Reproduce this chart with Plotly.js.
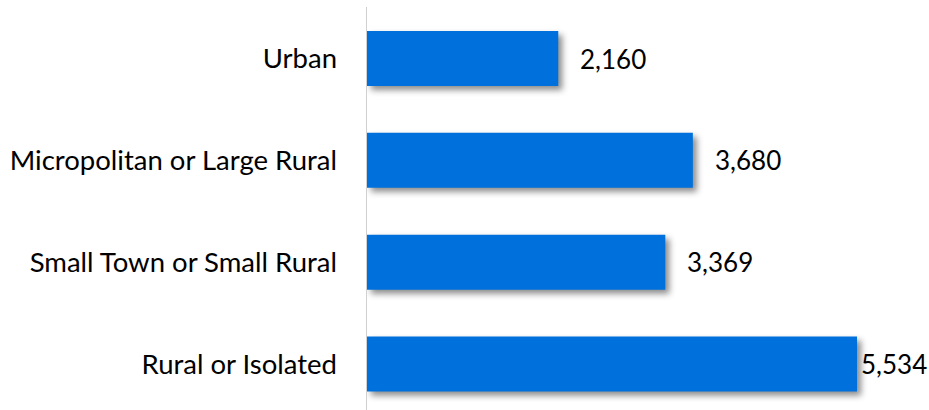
<!DOCTYPE html>
<html>
<head>
<meta charset="utf-8">
<script src="https://cdn.plot.ly/plotly-3.0.1.min.js"></script>
<style>
html,body{margin:0;padding:0;background:#fff;}
.trace.bars .point path{filter: drop-shadow(4px 4px 3px rgba(0,0,0,0.45));}
</style>
</head>
<body>
<div id="chart" style="width:929px;height:410px;"></div>
<script>
const categories = ["Urban", "Micropolitan or Large Rural", "Small Town or Small Rural", "Rural or Isolated"];
const values = [2160, 3680, 3369, 5534];
const labelShift = [20, 20, 20, 2];

const fontFam = "Lato, 'Open Sans', sans-serif";

const trace = {
  type: "bar",
  orientation: "h",
  x: values,
  y: categories,
  marker: {color: "#0070DD"},
  hoverinfo: "none"
};

const annotations = values.map((v, i) => ({
  x: v, y: categories[i], xref: "x", yref: "y",
  text: v.toLocaleString("en-US"),
  showarrow: false, xanchor: "left", yanchor: "middle",
  xshift: labelShift[i],
  font: {family: fontFam, size: 26, color: "#000"}
}));

const layout = {
  width: 929, height: 410,
  margin: {l: 367, r: 0, t: 7, b: 0},
  paper_bgcolor: "#fff", plot_bgcolor: "#fff",
  bargap: 0.46,
  showlegend: false,
  xaxis: {range: [0, 6347], showgrid: false, zeroline: false, showline: false, showticklabels: false, ticks: ""},
  yaxis: {
    type: "category",
    range: [3.452, -0.506],
    showgrid: false, zeroline: false,
    showline: true, linecolor: "#d0d0d0", linewidth: 1.5,
    ticks: "", ticklabelstandoff: 23,
    tickfont: {family: fontFam, size: 27.5, color: "#000"}
  },
  annotations: annotations
};

Plotly.newPlot("chart", [trace], layout, {staticPlot: true, displayModeBar: false});
</script>
</body>
</html>
